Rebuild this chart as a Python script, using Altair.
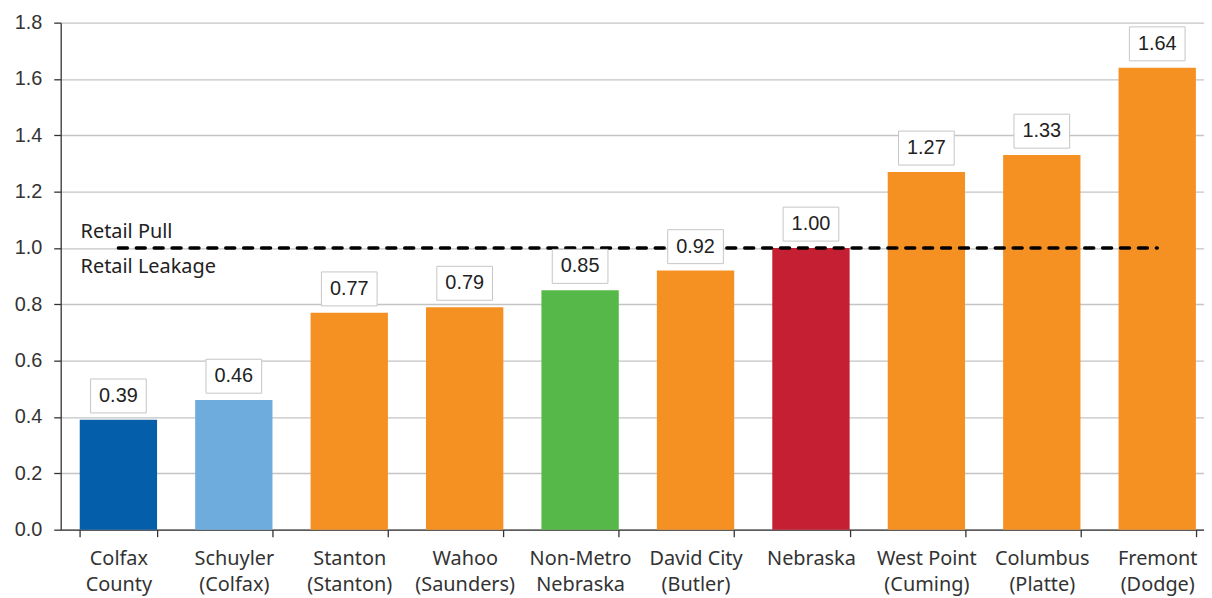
import altair as alt
import pandas as pd

categories = ["Colfax|County", "Schuyler|(Colfax)", "Stanton|(Stanton)", "Wahoo|(Saunders)",
              "Non-Metro|Nebraska", "David City|(Butler)", "Nebraska", "West Point|(Cuming)",
              "Columbus|(Platte)", "Fremont|(Dodge)"]
values = [0.39, 0.46, 0.77, 0.79, 0.85, 0.92, 1.00, 1.27, 1.33, 1.64]
colors = ["#055EA9", "#6FACDE", "#F59122", "#F59122", "#56B848", "#F59122",
          "#C41F32", "#F59122", "#F59122", "#F59122"]
y_ticks = [0.0, 0.2, 0.4, 0.6, 0.8, 1.0, 1.2, 1.4, 1.6, 1.8]
ref_value = 1.0
ref_labels = ["Retail Pull", "Retail Leakage"]

df = pd.DataFrame({"cat": categories, "value": values, "color": colors})

xscale = alt.Scale(domain=categories, range=[0, 1161], paddingInner=0.33, paddingOuter=0.165)
xenc = alt.X("cat:N", title=None, scale=xscale,
             axis=alt.Axis(labelExpr="datum.value ? split(datum.value, '|') : ''", labelAngle=0,
                           labelFontSize=20, labelFont="Noto Sans", labelColor="#333333",
                           labelLineHeight=26, labelPadding=12, tickBand="extent",
                           tickSize=7, tickColor="#333333", domainColor="#333333",
                           domainWidth=1.3, tickWidth=1.3, grid=False))
yscale = alt.Scale(domain=[0, 1.8], nice=False)

bars = alt.Chart(df).mark_bar().encode(
    x=xenc,
    y=alt.Y("value:Q", scale=yscale, title=None,
            axis=alt.Axis(values=y_ticks, format=".1f", labelFontSize=20,
                          labelFont="Liberation Sans", labelColor="#333333",
                          tickSize=7, labelPadding=12, tickColor="#333333",
                          domainColor="#333333", domainWidth=1.3, tickWidth=1.3,
                          gridColor="#c4c4c4", gridWidth=1.3)),
    color=alt.Color("color:N", scale=None),
)

boxes = alt.Chart(df).mark_point(
    shape="M-1,-0.61L1,-0.61L1,0.61L-1,0.61Z", size=3136, filled=True,
    fill="white", stroke="#c6c6c6", strokeWidth=1, opacity=1, fillOpacity=1,
    yOffset=-24,
).encode(x=alt.X("cat:N", scale=xscale), y=alt.Y("value:Q", scale=yscale))

texts = alt.Chart(df).mark_text(
    fontSize=20, font="Liberation Sans", color="#222222", yOffset=-24, baseline="middle"
).encode(x=alt.X("cat:N", scale=xscale), y=alt.Y("value:Q", scale=yscale),
         text=alt.Text("value:Q", format=".2f"))

rule_df = pd.DataFrame({"x1": [categories[0]], "x2": [categories[-1]], "y": [ref_value]})
rule = alt.Chart(rule_df).mark_rule(
    color="black", strokeWidth=3.5, strokeDash=[9, 9], strokeCap="round"
).encode(x=alt.X("x1:N", scale=xscale), x2="x2:N", y=alt.Y("y:Q", scale=yscale))

ann_df = pd.DataFrame({"t": ref_labels, "yy": [211, 246]})
ann = alt.Chart(ann_df).mark_text(
    align="left", baseline="middle", fontSize=20, font="Noto Sans", color="#222222"
).encode(x=alt.value(20), y=alt.Y("yy:Q", scale=None), text="t:N")

chart = alt.layer(bars, rule, boxes, texts, ann).properties(
    width=1150, height=510,
    autosize=alt.AutoSizeParams(type="none"),
    padding={"left": 53, "top": 13, "right": 0, "bottom": 67},
).configure_view(stroke=None)

chart.save("out.html", embed_options={"renderer": "svg", "actions": False})
